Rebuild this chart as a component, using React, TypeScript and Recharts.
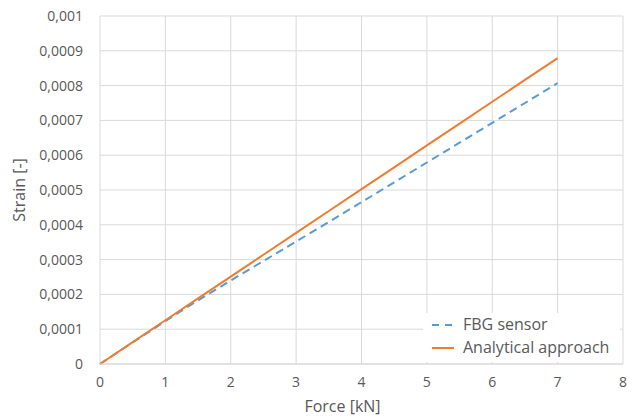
import React from 'react';
import { LineChart, Line, XAxis, YAxis, CartesianGrid } from 'recharts';

const forces = [0, 0.5, 1, 1.5, 2, 2.5, 3, 3.5, 4, 4.5, 5, 5.5, 6, 6.5, 7];
const fbgSensor = [
  0, 0.000062, 0.000123, 0.000183, 0.00024, 0.000296, 0.000352, 0.000408,
  0.000465, 0.000522, 0.000579, 0.000636, 0.000693, 0.00075, 0.000807,
];
const analytical = [
  0, 0.0000628, 0.0001256, 0.0001884, 0.0002512, 0.000314, 0.0003768, 0.0004396,
  0.0005024, 0.0005652, 0.000628, 0.0006908, 0.0007536, 0.0008164, 0.000879,
];
const xTicks = [0, 1, 2, 3, 4, 5, 6, 7, 8];
const yTicks = [0, 0.0001, 0.0002, 0.0003, 0.0004, 0.0005, 0.0006, 0.0007, 0.0008, 0.0009, 0.001];

const data = forces.map((f, i) => ({ force: f, fbg: fbgSensor[i], analytical: analytical[i] }));

const font = '"Open Sans", sans-serif';
const textColor = '#595959';
const gridColor = '#d9d9d9';

const formatStrain = (v: number) => {
  if (v === 0) return '0';
  return v.toFixed(4).replace(/0+$/, '').replace('.', ',');
};

// legend drawn as an overlay in the lower right of the plot, like Excel does
const LegendBox = () => (
  <div
    style={{
      position: 'absolute',
      left: 423,
      top: 313,
      width: 197,
      height: 49,
      background: '#fff',
      fontFamily: font,
      fontSize: 16,
      color: textColor,
      padding: '0 0 0 9px',
      lineHeight: '23px',
      boxSizing: 'border-box',
    }}
  >
    <div style={{ display: 'flex', alignItems: 'center' }}>
      <svg width={22} height={4} style={{ marginRight: 9 }}>
        <line x1={0} y1={2} x2={22} y2={2} stroke="#5B9BD5" strokeWidth={2} strokeDasharray="7 6" />
      </svg>
      FBG sensor
    </div>
    <div style={{ display: 'flex', alignItems: 'center' }}>
      <svg width={22} height={4} style={{ marginRight: 9 }}>
        <line x1={0} y1={2} x2={22} y2={2} stroke="#ED7D31" strokeWidth={2} />
      </svg>
      Analytical approach
    </div>
  </div>
);

export default function App() {
  return (
    <div style={{ position: 'absolute', left: 0, top: 0, width: 638, height: 419, background: '#fff' }}>
      <LineChart width={638} height={419} data={data} margin={{ top: 16, right: 15, left: 0, bottom: 5 }}>
        <CartesianGrid stroke={gridColor} />
        <XAxis
          dataKey="force"
          type="number"
          domain={[0, 8]}
          ticks={xTicks}
          height={50}
          stroke={gridColor}
          tickLine={false}
          tickSize={0}
          tickMargin={13}
          tick={{ fill: textColor, fontSize: 14, fontFamily: font }}
          label={{
            value: 'Force [kN]',
            position: 'insideBottom',
            offset: 2,
            dx: -19,
            style: { fill: textColor, fontSize: 16, fontFamily: font },
          }}
        />
        <YAxis
          type="number"
          domain={[0, 0.001]}
          ticks={yTicks}
          width={100}
          axisLine={false}
          tickLine={false}
          tickSize={0}
          tickMargin={17}
          tickFormatter={formatStrain}
          tick={{ fill: textColor, fontSize: 14, fontFamily: font }}
          label={{
            value: 'Strain [-]',
            angle: -90,
            position: 'insideLeft',
            offset: 19,
            style: { fill: textColor, fontSize: 16, fontFamily: font, textAnchor: 'middle' },
          }}
        />
        <Line
          dataKey="fbg"
          name="FBG sensor"
          stroke="#5B9BD5"
          strokeWidth={2}
          strokeDasharray="8 5"
          dot={false}
          isAnimationActive={false}
        />
        <Line
          dataKey="analytical"
          name="Analytical approach"
          stroke="#ED7D31"
          strokeWidth={2}
          dot={false}
          isAnimationActive={false}
        />
      </LineChart>
      <LegendBox />
    </div>
  );
}
